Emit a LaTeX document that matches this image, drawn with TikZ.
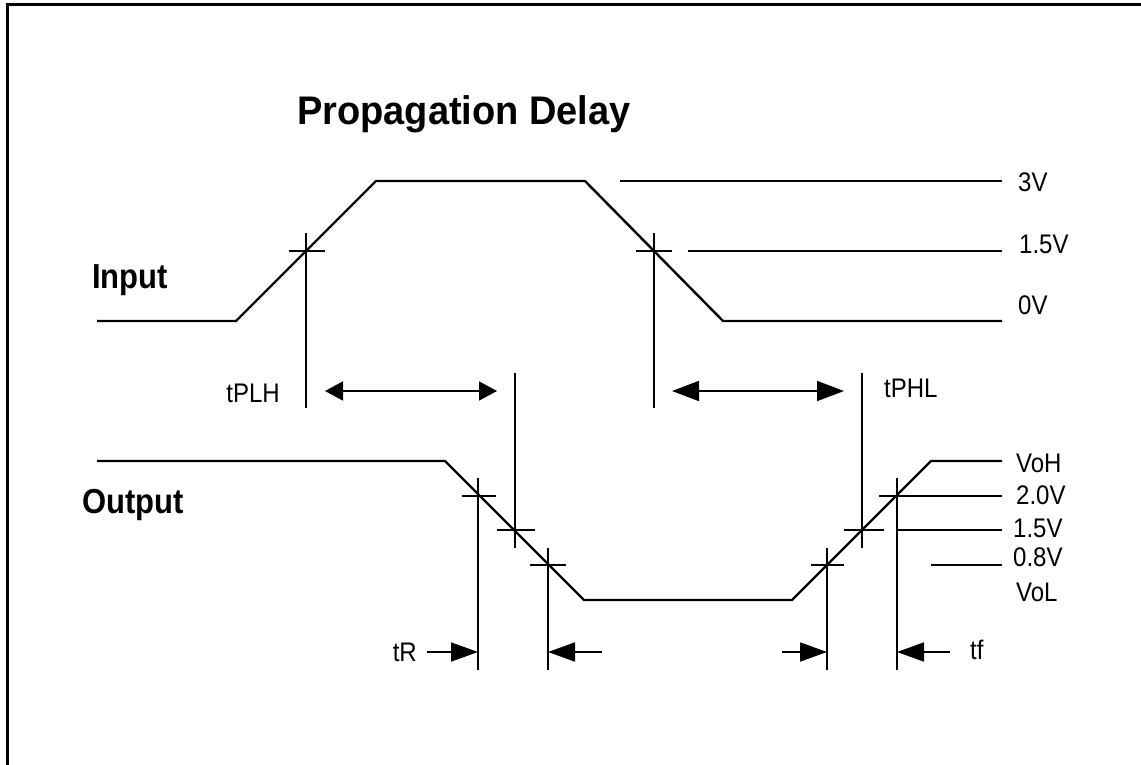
\documentclass[tikz,border=0pt]{standalone}
\usepackage{fontspec}
\setmainfont{Liberation Sans}
\usetikzlibrary{arrows.meta}
\newcommand{\vstretch}[1]{\scalebox{1}[1.12]{#1}}
\begin{document}
\begin{tikzpicture}[x=1pt,y=-1pt,
  wave/.style={line width=2.4pt, line join=miter},
  thinline/.style={line width=1.8pt},
  lbl/.style={font=\fontsize{24}{24}\selectfont, inner sep=0pt},
  biglbl/.style={font=\fontsize{31}{31}\selectfont\bfseries, inner sep=0pt},
  titlelbl/.style={font=\fontsize{38}{38}\selectfont\bfseries, inner sep=0pt},
  longtip/.style={-{Triangle[length=27pt,width=19pt]}},
  dbltip/.style={{Triangle[length=18pt,width=19pt]}-{Triangle[length=18pt,width=19pt]}},
  dbltipl/.style={{Triangle[length=27pt,width=20pt]}-{Triangle[length=27pt,width=20pt]}},
  ]
\useasboundingbox (0,0) rectangle (1141,765);
% frame (top and left only)
\coordinate (fbl) at (7,765);
\coordinate (ftl) at (7,5);
\coordinate (ftr) at (1141,5);
\draw[line width=3pt] (fbl) -- (ftl) -- (ftr);

% texts
\node[titlelbl, anchor=base west] (title) at (297,125) {\scalebox{1}[1.05]{Propagation Delay}};
\node[biglbl, anchor=base west] (inlbl) at (92,288) {\vstretch{Input}};
\node[biglbl, anchor=base west] (outlbl) at (82,513) {\vstretch{Output}};
\node[lbl, anchor=base west] (v3) at (1018,191) {\vstretch{3V}};
\node[lbl, anchor=base west] (v15i) at (1019,253) {\vstretch{1.5V}};
\node[lbl, anchor=base west] (v0) at (1018,314) {\vstretch{0V}};
\node[lbl, anchor=base west] (voh) at (1016,472) {\vstretch{VoH}};
\node[lbl, anchor=base west] (v20) at (1016,504) {\vstretch{2.0V}};
\node[lbl, anchor=base west] (v15o) at (1013,537) {\vstretch{1.5V}};
\node[lbl, anchor=base west] (v08) at (1013,566.5) {\vstretch{0.8V}};
\node[lbl, anchor=base west] (vol) at (1016,601) {\vstretch{VoL}};
\node[lbl, anchor=base east] (tplh) at (280,402) {\vstretch{tPLH}};
\node[lbl, anchor=base west] (tphl) at (884,397) {\vstretch{tPHL}};
\node[lbl, anchor=base east] (tr) at (417,661) {\vstretch{tR}};
\node[lbl, anchor=base west] (tf) at (970,659) {\vstretch{tf}};

% input waveform
\coordinate (i0) at (97,321);
\coordinate (i1) at (236,321);
\coordinate (i2) at (376,181);
\coordinate (i3) at (585,181);
\coordinate (i4) at (723,321);
\coordinate (i5) at (1002,321);
\draw[wave] (i0) -- (i1) -- (i2) -- (i3) -- (i4) -- (i5);

% output waveform
\coordinate (o0) at (97,461);
\coordinate (o1) at (445,461);
\coordinate (o2) at (584,600);
\coordinate (o3) at (792,600);
\coordinate (o4) at (931,461);
\coordinate (o5) at (1002,461);
\draw[wave] (o0) -- (o1) -- (o2) -- (o3) -- (o4) -- (o5);

% input reference lines
\draw[thinline] (620,181) -- (1002,181);
\draw[thinline] (688,251) -- (1002,251);
\draw[thinline] (862,321) -- (1002,321);

% output reference lines
\draw[thinline] (915,496) -- (1002,496);
\draw[thinline] (896,530) -- (1002,530);
\draw[thinline] (931,565) -- (1002,565);

% input crosshairs
\draw[thinline] (289,251) -- (325,251);
\draw[thinline] (306,233) -- (306,408);
\draw[thinline] (636,251) -- (672,251);
\draw[thinline] (654,233) -- (654,408);

% output fall crosshairs
\draw[thinline] (462,496) -- (496,496);
\draw[thinline] (478,478) -- (478,670);
\draw[thinline] (497,530) -- (535,530);
\draw[thinline] (515,373) -- (515,548);
\draw[thinline] (530,565) -- (566,565);
\draw[thinline] (548,548) -- (548,670);

% output rise crosshairs
\draw[thinline] (811,565) -- (844,565);
\draw[thinline] (827,548) -- (827,670);
\draw[thinline] (844,530) -- (884,530);
\draw[thinline] (862,373) -- (862,548);
\draw[thinline] (879,496) -- (915,496);
\draw[thinline] (897,478) -- (897,670);

% delay arrows
\coordinate (a1s) at (325,391);
\coordinate (a1e) at (497,391);
\draw[thinline, dbltip] (a1s) -- (a1e);
\coordinate (a2s) at (672,391);
\coordinate (a2e) at (844,391);
\draw[thinline, dbltipl] (a2s) -- (a2e);

% rise/fall arrows
\draw[thinline, longtip] (427,652) -- (478,652);
\draw[thinline, longtip] (602,652) -- (548,652);
\draw[thinline, longtip] (782,652) -- (827,652);
\draw[thinline, longtip] (950,652) -- (897,652);
\end{tikzpicture}
\end{document}
